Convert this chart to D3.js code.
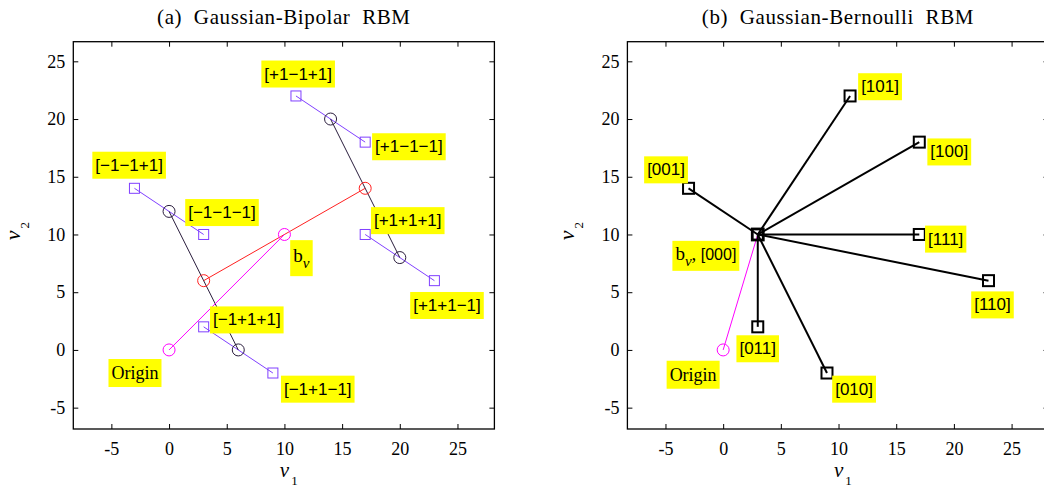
<!DOCTYPE html>
<html>
<head>
<meta charset="utf-8">
<script src="https://cdn.jsdelivr.net/npm/d3@7"></script>
<style>
body { margin: 0; background: #fff; }
</style>
</head>
<body>
<svg width="1044" height="489"></svg>
<script>
// ticks shared by both panels
let xTicks = [-5, 0, 5, 10, 15, 20, 25];
let yTicks = [-5, 0, 5, 10, 15, 20, 25];
let xDomain = [-8.3, 28.2];
let yDomain = [-6.85, 26.7];

// (a) Gaussian-Bipolar RBM
let bipolarVisible = [[-3, 14], [3, 10], [11, 22], [17, 18], [17, 10], [23, 6], [3, 2], [9, -2]];
let bipolarStates = ["[−1−1+1]", "[−1−1−1]", "[+1−1+1]", "[+1−1−1]", "[+1+1+1]", "[+1+1−1]", "[−1+1+1]", "[−1+1−1]"];
let bipolarLabelAt = [[-6.65, 16], [1.4, 11.9], [8, 23.9], [17.6, 17.6], [17.5, 11.2], [20.9, 3.85], [3.55, 2.6], [9.7, -3.4]];
let bipolarPairs = [[0, 1], [2, 3], [4, 5], [6, 7]];      // purple segments
let bipolarMidA = [[0, 12], [14, 20], [20, 8], [6, 0]];   // dark circles
let bipolarDarkPairs = [[0, 3], [1, 2]];                  // dark segments (index into bipolarMidA)
let bipolarMidB = [[3, 6], [17, 14]];                     // red circles
let origin = [0, 0];
let bipolarBias = [10, 10];
let bipolarBvLabelAt = [10.5, 7.95];
let bipolarOriginLabelAt = [-5.25, -2];

// (b) Gaussian-Bernoulli RBM
let bernBias = [3, 10];
let bernVisible = [[-3, 14], [11, 22], [17, 18], [17, 10], [23, 6], [9, -2], [3, 2]];
let bernStates = ["[001]", "[101]", "[100]", "[111]", "[110]", "[010]", "[011]"];
let bernLabelAt = [[-6.85, 15.6], [11.7, 22.8], [17.7, 17.15], [17.5, 9.6], [21.5, 3.9], [9.45, -3.4], [1.15, 0.1]];
let bernBvLabelAt = [-4.4, 8.15];
let bernOriginLabelAt = [-4.9, -2.15];

let purple = "#8040ff";
let dark = "#2a1d3d";
let red = "#ff2020";
let magenta = "#ff00ff";

let serif = "'Liberation Serif', 'Times New Roman', serif";
let sans = "'Liberation Sans', Arial, sans-serif";

var svg = d3.select("svg");

function panel(xRange, title) {
    var g = svg.append("g");
    var x = d3.scaleLinear().domain(xDomain).range(xRange);
    var y = d3.scaleLinear().domain(yDomain).range([429, 41.7]);

    // frame
    g.append("rect")
        .attr("x", x(xDomain[0])).attr("y", y(yDomain[1]))
        .attr("width", x(xDomain[1]) - x(xDomain[0]))
        .attr("height", y(yDomain[0]) - y(yDomain[1]))
        .attr("fill", "none").attr("stroke", "#000").attr("stroke-width", 1.3);

    var fmt = function(d) { return String(d); };
    var axes = [
        g.append("g").attr("transform", "translate(0," + y(yDomain[0]) + ")")
            .call(d3.axisBottom(x).tickValues(xTicks).tickSizeInner(-5).tickSizeOuter(0).tickPadding(13).tickFormat(fmt)),
        g.append("g").attr("transform", "translate(" + x(xDomain[0]) + ",0)")
            .call(d3.axisLeft(y).tickValues(yTicks).tickSizeInner(-5).tickSizeOuter(0).tickPadding(8).tickFormat(fmt)),
        g.append("g").attr("transform", "translate(0," + y(yDomain[1]) + ")")
            .call(d3.axisTop(x).tickValues(xTicks).tickSizeInner(-5).tickSizeOuter(0).tickFormat("")),
        g.append("g").attr("transform", "translate(" + x(xDomain[1]) + ",0)")
            .call(d3.axisRight(y).tickValues(yTicks).tickSizeInner(-5).tickSizeOuter(0).tickFormat(""))
    ];
    axes.forEach(function(a) {
        a.select(".domain").remove();
        a.attr("font-family", serif).attr("font-size", 18);
        a.selectAll("line").attr("stroke", "#000");
    });

    // title
    var cx = (x(xDomain[0]) + x(xDomain[1])) / 2;
    g.append("text")
        .attr("x", cx).attr("y", 24)
        .attr("text-anchor", "middle")
        .attr("font-family", serif).attr("font-size", 21)
        .attr("letter-spacing", 0.6)
        .style("white-space", "pre")
        .text(title);

    // axis labels v1, v2
    var xl = g.append("text").attr("x", cx - 4).attr("y", 477)
        .attr("font-family", serif).attr("font-size", 21);
    xl.append("tspan").attr("font-style", "italic").text("v");
    xl.append("tspan").attr("font-size", 13).attr("dy", 8).attr("dx", 2).text("1");

    var cy = (y(yDomain[0]) + y(yDomain[1])) / 2;
    var yl = g.append("text")
        .attr("transform", "translate(" + (x(xDomain[0]) - 53) + "," + (cy + 5) + ") rotate(-90)")
        .attr("font-family", serif).attr("font-size", 22);
    yl.append("tspan").attr("font-style", "italic").text("v");
    yl.append("tspan").attr("font-size", 13).attr("dy", 9).attr("dx", 2).text("2");

    return {g: g, x: x, y: y};
}

function segment(p, a, b, color, w) {
    p.g.append("line")
        .attr("x1", p.x(a[0])).attr("y1", p.y(a[1]))
        .attr("x2", p.x(b[0])).attr("y2", p.y(b[1]))
        .attr("stroke", color).attr("stroke-width", w);
}

function circle(p, d, color) {
    p.g.append("circle")
        .attr("cx", p.x(d[0])).attr("cy", p.y(d[1])).attr("r", 6)
        .attr("fill", "none").attr("stroke", color).attr("stroke-width", 1);
}

function square(p, d, color, s, w) {
    p.g.append("rect")
        .attr("x", p.x(d[0]) - s / 2).attr("y", p.y(d[1]) - s / 2)
        .attr("width", s).attr("height", s)
        .attr("fill", "none").attr("stroke", color).attr("stroke-width", w);
}

// label with yellow box; pos = [left of box, middle of box] in data units
function label(p, pos, parts, padY) {
    var lg = p.g.append("g");
    var box = lg.append("rect").attr("fill", "#ffff00");
    var t = lg.append("text").style("white-space", "pre");
    parts.forEach(function(s) {
        var ts = t.append("tspan").attr("font-family", s.serif ? serif : sans)
            .attr("font-size", s.size || 17).text(s.t);
        if (s.italic) ts.attr("font-style", "italic");
        if (s.dy) ts.attr("dy", s.dy);
    });
    var bb = t.node().getBBox();
    var padX = 3;
    padY = padY || 4;
    box.attr("x", bb.x - padX).attr("y", bb.y - padY)
        .attr("width", bb.width + 2 * padX).attr("height", bb.height + 2 * padY);
    var tx = p.x(pos[0]) - (bb.x - padX);
    var ty = p.y(pos[1]) - (bb.y + bb.height / 2);
    lg.attr("transform", "translate(" + tx + "," + ty + ")");
}

// ---- panel (a)
var pa = panel([73.3, 494.4], "(a)  Gaussian-Bipolar  RBM");
bipolarPairs.forEach(function(d) { segment(pa, bipolarVisible[d[0]], bipolarVisible[d[1]], purple, 1); });
bipolarDarkPairs.forEach(function(d) { segment(pa, bipolarMidA[d[0]], bipolarMidA[d[1]], dark, 1); });
segment(pa, bipolarMidB[0], bipolarMidB[1], red, 1);
segment(pa, origin, bipolarBias, magenta, 1);
bipolarVisible.forEach(function(d) { square(pa, d, purple, 10, 1); });
bipolarMidA.forEach(function(d) { circle(pa, d, dark); });
bipolarMidB.forEach(function(d) { circle(pa, d, red); });
circle(pa, origin, magenta);
circle(pa, bipolarBias, magenta);
bipolarStates.forEach(function(s, i) { label(pa, bipolarLabelAt[i], [{t: s}]); });
label(pa, bipolarBvLabelAt, [{t: "b", serif: true, size: 19}, {t: "v", serif: true, italic: true, size: 15, dy: 6}], 5);
label(pa, bipolarOriginLabelAt, [{t: "Origin", serif: true, size: 18}]);

// ---- panel (b)
var pb = panel([627.4, 1048.5], "(b)  Gaussian-Bernoulli  RBM");
segment(pb, origin, bernBias, magenta, 1);
bernVisible.forEach(function(d) { segment(pb, bernBias, d, "#000", 2); });
bernVisible.forEach(function(d) { square(pb, d, "#000", 11, 2); });
square(pb, bernBias, "#000", 11, 2.8);
circle(pb, origin, magenta);
bernStates.forEach(function(s, i) { label(pb, bernLabelAt[i], [{t: s}]); });
label(pb, bernBvLabelAt, [{t: "b", serif: true, size: 19}, {t: "v", serif: true, italic: true, size: 15, dy: 6},
    {t: ",", serif: true, size: 19, dy: -6}, {t: " [000]", size: 16}], 2);
label(pb, bernOriginLabelAt, [{t: "Origin", serif: true, size: 18}]);
</script>
</body>
</html>
